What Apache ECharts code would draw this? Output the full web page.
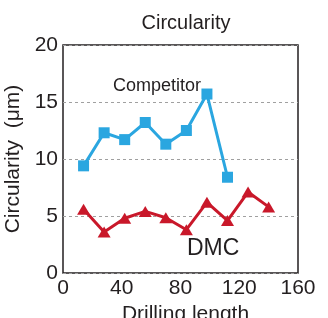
<!DOCTYPE html>
<html>
<head>
<meta charset="utf-8">
<script src="https://cdn.jsdelivr.net/npm/echarts@6/dist/echarts.min.js"></script>
<style>
  html, body { margin: 0; padding: 0; background: #fff; }
  #chart { width: 328px; height: 318px; }
</style>
</head>
<body>
<div id="chart"></div>
<script>
// drilling length positions
var competitorLength = [14, 28, 42, 56, 70, 84, 98, 112];
var competitorValues = [9.4, 12.3, 11.7, 13.2, 11.3, 12.5, 15.7, 8.4];
var dmcLength = [14, 28, 42, 56, 70, 84, 98, 112, 126, 140];
var dmcValues = [5.6, 3.6, 4.8, 5.4, 4.85, 3.8, 6.2, 4.6, 7.1, 5.8];
var xTicks = [0, 40, 80, 120, 160];
var yTicks = [0, 5, 10, 15, 20];

var ink = '#231f20';
var font = 'Liberation Sans, Arial, sans-serif';

function pairs(xs, ys) {
  return xs.map(function(x, i) { return [x, ys[i]]; });
}

var chart = echarts.init(document.getElementById('chart'));
chart.setOption({
  animation: false,
  title: {
    text: 'Circularity',
    left: 181, top: 8,
    textAlign: 'center',
    textStyle: { fontFamily: font, fontSize: 20, fontWeight: 'normal', color: ink }
  },
  grid: {
    left: 63, top: 45, right: 30, bottom: 45,
    outerBoundsMode: 'none', containLabel: false,
    show: true, borderColor: ink, borderWidth: 1.5, backgroundColor: 'transparent'
  },
  xAxis: {
    type: 'value',
    min: xTicks[0], max: xTicks[xTicks.length - 1], interval: 40,
    name: 'Drilling length', nameLocation: 'middle', nameGap: 19,
    nameTextStyle: { fontFamily: font, fontSize: 21, color: ink, padding: [0, 0, 0, 10] },
    axisLine: { show: false },
    axisTick: { show: false },
    splitLine: { show: false },
    axisLabel: { fontFamily: font, fontSize: 21, color: ink, margin: 5, hideOverlap: false }
  },
  yAxis: {
    type: 'value',
    min: yTicks[0], max: yTicks[yTicks.length - 1], interval: 5,
    name: 'Circularity  (μm)', nameLocation: 'middle', nameGap: 33,
    nameTextStyle: { fontFamily: font, fontSize: 21, color: ink },
    axisLine: { show: false },
    axisTick: { show: false },
    splitLine: { show: true, lineStyle: { color: '#a0a0a0', type: [3, 3], width: 1 } },
    axisLabel: { fontFamily: font, fontSize: 21, color: ink, margin: 5 }
  },
  series: [
    {
      name: 'Competitor',
      type: 'line',
      data: pairs(competitorLength, competitorValues),
      symbol: 'rect', symbolSize: 11,
      lineStyle: { color: '#2aa6e0', width: 3 },
      itemStyle: { color: '#2aa6e0' }
    },
    {
      name: 'DMC',
      type: 'line',
      data: pairs(dmcLength, dmcValues),
      symbol: 'triangle', symbolSize: [13, 11],
      lineStyle: { color: '#c9182a', width: 3 },
      itemStyle: { color: '#c9182a' }
    }
  ],
  graphic: [
    {
      type: 'text', left: 113, top: 77,
      style: { text: 'Competitor', font: '18px ' + font, fill: ink }
    },
    {
      type: 'text', left: 187, top: 237,
      style: { text: 'DMC', font: '23px ' + font, fill: ink }
    }
  ]
});
</script>
</body>
</html>
